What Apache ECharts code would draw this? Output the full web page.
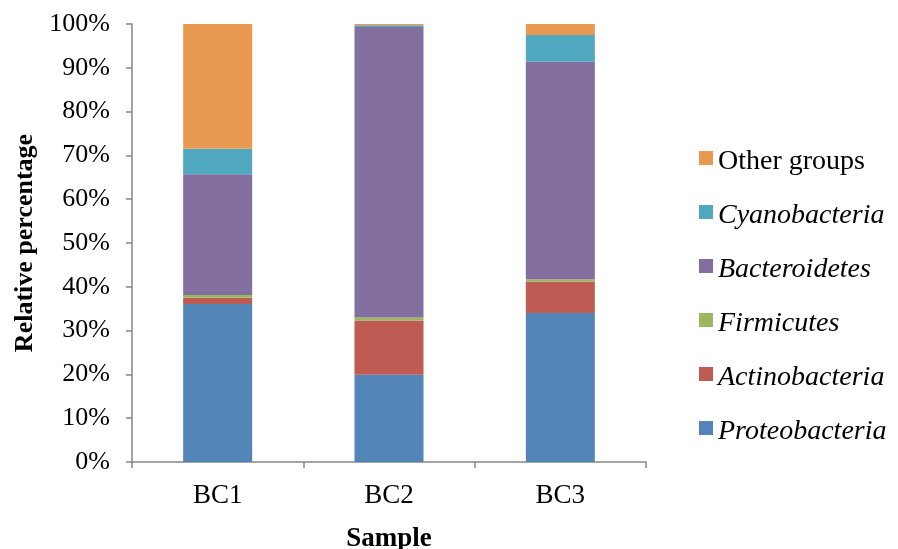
<!DOCTYPE html>
<html><head><meta charset="utf-8">
<script src="https://cdn.jsdelivr.net/npm/echarts@6/dist/echarts.min.js"></script>
<style>html,body{margin:0;padding:0;background:#fff}#c{width:898px;height:549px}</style>
</head><body><div id="c"></div>
<script>
const categories = ['BC1', 'BC2', 'BC3'];
const seriesNames = ['Proteobacteria', 'Actinobacteria', 'Firmicutes', 'Bacteroidetes', 'Cyanobacteria', 'Other groups'];
const proteobacteria = [36.1, 19.9, 34.0];
const actinobacteria = [1.4, 12.4, 7.2];
const firmicutes = [0.6, 0.7, 0.5];
const bacteroidetes = [27.6, 66.3, 49.7];
const cyanobacteria = [5.8, 0.4, 6.1];
const otherGroups = [28.5, 0.3, 2.5];
const yTicks = [0, 10, 20, 30, 40, 50, 60, 70, 80, 90, 100];

const values = [proteobacteria, actinobacteria, firmicutes, bacteroidetes, cyanobacteria, otherGroups];
const colors = ['#5485B8', '#BE5B52', '#9BB85F', '#836EA0', '#4FA8BF', '#E99A50'];
const font = '"Liberation Serif", "Times New Roman", serif';

const chart = echarts.init(document.getElementById('c'));
chart.setOption({
  animation: false,
  grid: {left: 132, right: 252, top: 24, bottom: 87, containLabel: false, outerBoundsMode: 'none'},
  legend: {
    orient: 'vertical',
    left: 694, top: 135,
    itemWidth: 14, itemHeight: 14,
    itemGap: 18,
    icon: 'rect',
    data: seriesNames.slice().reverse(),
    formatter: function (n) { return n === 'Other groups' ? '{n|' + n + '}' : '{i|' + n + '}'; },
    textStyle: {
      fontFamily: font, fontSize: 28, color: '#000',
      rich: {
        n: {fontFamily: font, fontSize: 28, lineHeight: 28, padding: [8, 0, 0, 0], color: '#000'},
        i: {fontFamily: font, fontSize: 28, lineHeight: 28, padding: [8, 0, 0, 0], fontStyle: 'italic', color: '#000'}
      }
    }
  },
  xAxis: {
    type: 'category',
    data: categories,
    name: 'Sample',
    nameLocation: 'middle',
    nameGap: 64,
    nameTextStyle: {fontFamily: font, fontSize: 27, fontWeight: 'bold', color: '#000'},
    axisLine: {lineStyle: {color: '#868686', width: 1.5}},
    axisTick: {show: true, length: 6, lineStyle: {color: '#868686', width: 1.5}},
    axisLabel: {fontFamily: font, fontSize: 27, color: '#000', margin: 20}
  },
  yAxis: {
    type: 'value',
    min: 0, max: 100, interval: 10,
    name: 'Relative percentage',
    nameLocation: 'middle',
    nameGap: 94,
    nameTextStyle: {fontFamily: font, fontSize: 26, fontWeight: 'bold', color: '#000'},
    splitLine: {show: false},
    axisLine: {show: true, lineStyle: {color: '#868686', width: 1.5}},
    axisTick: {show: true, length: 6, lineStyle: {color: '#868686', width: 1.5}},
    axisLabel: {
      fontFamily: font, fontSize: 26, color: '#000', margin: 22,
      formatter: function (v) { return yTicks.indexOf(v) >= 0 ? v + '%' : ''; }
    }
  },
  series: seriesNames.map(function (name, i) {
    return {
      name: name,
      type: 'bar',
      stack: 'total',
      barWidth: 69,
      data: values[i],
      itemStyle: {color: colors[i]}
    };
  })
});
</script>
</body></html>
